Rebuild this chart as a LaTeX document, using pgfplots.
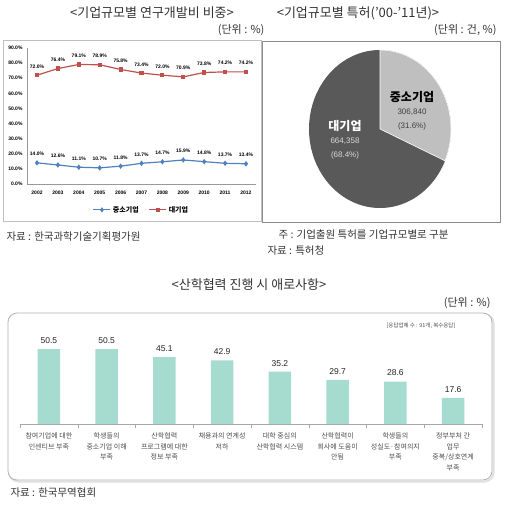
\documentclass[border=0pt]{standalone}
\usepackage{pgfplots}
\pgfplotsset{compat=1.18}
\usepackage{pgfplotstable}
\usepackage{fontspec}
\setmainfont{Noto Sans CJK KR}
\newfontfamily\numfont{Liberation Sans}
\definecolor{redl}{HTML}{C0504D}
\definecolor{bluel}{HTML}{4F81BD}
\definecolor{barc}{HTML}{A6DCCF}
\definecolor{pielight}{HTML}{BFBFBF}
\definecolor{piedark}{HTML}{595959}
\definecolor{txt}{HTML}{333333}

\pgfplotstableread{
year small large
2002 14.0 72.0
2003 12.6 76.4
2004 11.1 79.1
2005 10.7 78.9
2006 11.8 75.8
2007 13.7 73.4
2008 14.7 72.0
2009 15.9 70.9
2010 14.8 73.8
2011 13.7 74.2
2012 13.4 74.2
}\rdtable

\pgfplotstableread{
idx val
0 50.5
1 50.5
2 45.1
3 42.9
4 35.2
5 29.7
6 28.6
7 17.6
}\bartable

\begin{document}
\begin{tikzpicture}[x=1pt,y=1pt]
\path[use as bounding box, fill=white] (0pt,0pt) rectangle (504pt,-505pt);

% ---------- titles and notes ----------
\node[font=\fontsize{13}{13}\selectfont, text=txt] at (152pt,-13pt) {<기업규모별 연구개발비 비중>};
\node[font=\fontsize{11}{11}\selectfont, text=txt, anchor=east] at (268pt,-30pt) {(단위 : \%)};
\node[font=\fontsize{13}{13}\selectfont, text=txt] at (358pt,-13pt) {<기업규모별 특허('00-'11년)>};
\node[font=\fontsize{11}{11}\selectfont, text=txt, anchor=east] at (500pt,-30pt) {(단위 : 건, \%)};
\node[font=\fontsize{10.5}{10.5}\selectfont, text=txt, anchor=west] at (3pt,-237pt) {자료 : 한국과학기술기획평가원};
\node[font=\fontsize{10.5}{10.5}\selectfont, text=txt, anchor=west] at (275pt,-235pt) {주 : 기업출원 특허를 기업규모별로 구분};
\node[font=\fontsize{10.5}{10.5}\selectfont, text=txt, anchor=west] at (264pt,-251pt) {자료 : 특허청};
\node[font=\fontsize{13}{13}\selectfont, text=txt] at (249pt,-285pt) {<산학협력 진행 시 애로사항>};
\node[font=\fontsize{11}{11}\selectfont, text=txt, anchor=east] at (494pt,-303pt) {(단위 : \%)};
\node[font=\fontsize{10.5}{10.5}\selectfont, text=txt, anchor=west] at (7pt,-493pt) {자료 : 한국무역협회};

% ---------- boxes ----------
\draw[black!25] (3pt,-40pt) rectangle (261pt,-221pt);
\draw[black!45] (262pt,-41pt) rectangle (500pt,-222pt);
\draw[black!12, line width=2pt, rounded corners=9pt] (9.5pt,-314.5pt) rectangle (493.5pt,-481.5pt);
\draw[black!30, line width=0.8pt, rounded corners=9pt, fill=white] (8pt,-313pt) rectangle (492pt,-480pt);
\node[font=\fontsize{5.5}{5.5}\selectfont, text=black!70] at (421pt,-326pt) {[응답업체 수 : 91개, 복수응답]};

% ---------- line chart ----------
\begin{axis}[
  at={(27pt,-184pt)}, anchor=south west, scale only axis,
  width=229pt, height=136pt,
  xmin=2001.52, xmax=2012.48, ymin=0, ymax=90,
  axis x line*=bottom, axis y line*=left,
  axis line style={-, black!40},
  xtick={2002,...,2012}, ytick={0,10,...,90},
  major tick length=0pt,
  /pgf/number format/assume math mode=true,
  xticklabel style={/pgf/number format/1000 sep={}, font=\fontsize{5}{5}\selectfont\bfseries\numfont, yshift=-3pt},
  yticklabel={\pgfmathprintnumber[fixed,fixed zerofill,precision=1]{\tick}\%},
  yticklabel style={font=\fontsize{5}{5}\selectfont\bfseries\numfont, xshift=-1pt},
  nodes near coords={\pgfmathprintnumber[fixed,fixed zerofill,precision=1]{\pgfplotspointmeta}\%},
  every node near coord/.append style={font=\fontsize{5}{5}\selectfont\bfseries\numfont, text=black, anchor=south, yshift=3pt},
  legend style={at={(0.5,-0.19)}, anchor=center, draw=none, fill=none,
    legend columns=2, font=\fontsize{7}{7}\selectfont\bfseries,
    /tikz/every even column/.append style={column sep=8pt}},
  legend image post style={line width=1pt},
  clip=false,
]
\addplot[color=bluel, line width=1.2pt, mark=diamond*, mark size=1.8pt] table[x=year,y=small] \rdtable;
\addlegendentry{중소기업}
\addplot[color=redl, line width=1.2pt, mark=square*, mark size=1.5pt] table[x=year,y=large] \rdtable;
\addlegendentry{대기업}
\end{axis}

% ---------- pie chart ----------
\begin{axis}[
  at={(380pt,-129pt)}, anchor=center, scale only axis,
  width=142pt, height=158pt,
  xmin=-1, xmax=1, ymin=-1, ymax=1,
  hide axis, clip=false,
]
\pgfmathsetmacro{\angS}{306.840/(306.840+664.358)*360}
\pgfmathsetmacro{\angE}{90-\angS}
\fill[piedark] (axis cs:0,0) ellipse[x radius=71pt, y radius=79pt];
\filldraw[fill=pielight, draw=white, line width=0.6pt] (axis cs:0,0) -- (axis cs:0,1) arc[start angle=90, end angle=\angE, x radius=71pt, y radius=79pt] -- cycle;
\end{axis}
\node[font=\fontsize{12}{12}\selectfont\bfseries, text=black] at (412pt,-97pt) {중소기업};
\node[font=\fontsize{8}{8}\selectfont\numfont, text=black!75] at (412pt,-112pt) {306,840};
\node[font=\fontsize{8}{8}\selectfont\numfont, text=black!75] at (412pt,-126pt) {(31.6\%)};
\node[font=\fontsize{12}{12}\selectfont\bfseries, text=white] at (345pt,-126pt) {대기업};
\node[font=\fontsize{8}{8}\selectfont\numfont, text=black!15] at (345pt,-141pt) {664,358};
\node[font=\fontsize{8}{8}\selectfont\numfont, text=black!15] at (345pt,-155pt) {(68.4\%)};

% ---------- bar chart ----------
\begin{axis}[
  at={(20pt,-424pt)}, anchor=south west, scale only axis,
  width=462pt, height=89.1pt,
  xmin=-0.5, xmax=7.5, ymin=0, ymax=60,
  axis x line=bottom, axis y line=none,
  axis line style={-, black!35},
  ybar, bar width=22.5pt,
  xtick={0,...,7},
  xticklabels={{참여기업에 대한\\인센티브 부족},{학생들의\\중소기업 이해\\부족},{산학협력\\프로그램에 대한\\정보 부족},{채용과의 연계성\\저하},{대학 중심의\\산학협력 시스템},{산학협력이\\회사에 도움이\\안됨},{학생들의\\성실도·참여의지\\부족},{정부부처 간\\업무\\중복/상호연계\\부족}},
  major tick length=0pt,
  minor xtick={-0.5,0.5,...,7.5},
  minor tick length=4pt, tick align=outside,
  minor tick style={black!35},
  /pgf/number format/assume math mode=true,
  xticklabel style={align=center, font=\fontsize{7}{10.7}\selectfont, text=black!70, anchor=north, yshift=-5pt},
  nodes near coords={\pgfmathprintnumber[fixed,fixed zerofill,precision=1,assume math mode=true]{\pgfplotspointmeta}},
  every node near coord/.append style={font=\fontsize{8.5}{8.5}\selectfont\numfont, text=black!85, anchor=south, yshift=2pt},
  clip=false,
]
\addplot[fill=barc, draw=none] table[x=idx,y=val] \bartable;
\end{axis}
\end{tikzpicture}
\end{document}
